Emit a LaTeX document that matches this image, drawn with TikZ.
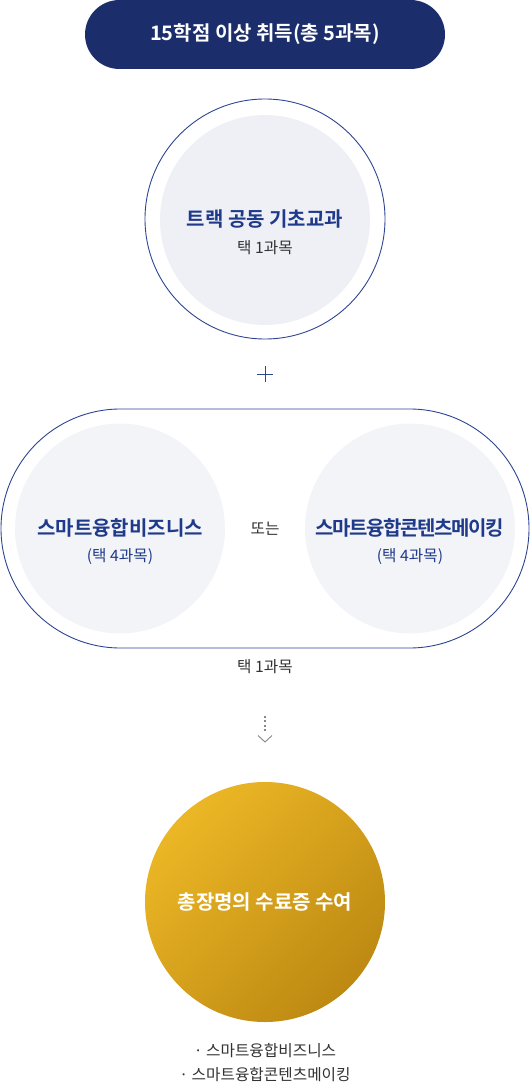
\documentclass[tikz,border=0pt]{standalone}
\usepackage{fontspec}
\setmainfont{Noto Sans CJK KR}[BoldFont={Noto Sans CJK KR Bold}]
\usetikzlibrary{shadings}
\definecolor{navy}{HTML}{1B2E6B}
\definecolor{ring}{HTML}{2C4592}
\definecolor{titleblue}{HTML}{1F3A8A}
\definecolor{fillA}{HTML}{EFF0F6}
\definecolor{fillB}{HTML}{F3F4F8}
\definecolor{txt}{HTML}{333333}
\definecolor{goldA}{HTML}{ECB725}
\definecolor{goldB}{HTML}{BD8912}
\definecolor{arrowgray}{HTML}{888888}
\tikzset{
  ringcircle/.style={circle, draw=ring, line width=0.9pt, inner sep=0pt, outer sep=0pt, minimum size=240pt},
  innercircle/.style={circle, inner sep=0pt, outer sep=0pt, minimum size=210pt},
  titletext/.style={font=\bfseries\fontsize{20}{23}\selectfont, text=titleblue, inner sep=0pt},
  subtext/.style={font=\fontsize{15.7}{18}\selectfont, text=txt, inner sep=0pt},
}
\begin{document}
\begin{tikzpicture}[x=1pt, y=-1pt]
\useasboundingbox (0,0) rectangle (530,1083);
% top banner
\node[fill=navy, rounded corners=34.5pt, minimum width=360pt, minimum height=69pt, inner sep=0pt, outer sep=0pt,
      text=white, font=\bfseries\fontsize{20}{23}\selectfont] (banner) at (265,34.5) {15학점 이상 취득(총 5과목)};
% top circle
\node[ringcircle] (outer1) at (265,219) {};
\node[innercircle, fill=fillA] (inner1) at (265,220) {};
\node[titletext] (t1) at (265,219) {트랙 공동 기초교과};
\node[subtext] (s1) at (265,248) {택 1과목};
% plus
\coordinate (pl) at (257,374);
\coordinate (pr) at (273,374);
\coordinate (pt) at (265,366);
\coordinate (pb) at (265,382);
\draw[ring, line width=1pt] (pl) -- (pr);
\draw[ring, line width=1pt] (pt) -- (pb);
% pill
\node[draw=ring, line width=0.9pt, rounded corners=119.5pt, minimum width=528pt, minimum height=239pt, inner sep=0pt, outer sep=0pt] (pill) at (265,528.5) {};
\node[innercircle, fill=fillB] (left) at (120,528.5) {};
\node[innercircle, fill=fillB] (right) at (410,528.5) {};
\node[titletext] (lt) at (120,528) {스마트융합비즈니스};
\node[subtext, text=titleblue] (ls) at (120,557) {(택 4과목)};
\node[titletext] (rt) at (410,528) {\addfontfeature{LetterSpace=-7}스마트융합콘텐츠메이킹};
\node[subtext, text=titleblue] (rs) at (410,557) {(택 4과목)};
\node[subtext] (or) at (265,529) {또는};
\node[subtext] (pick) at (265,667) {택 1과목};
% dotted arrow
\coordinate (d1) at (265,716);
\coordinate (d2) at (265,732);
\draw[arrowgray, line width=2pt, dash pattern=on 2pt off 2.3pt] (d1) -- (d2);
\coordinate (cl) at (258,735.5);
\coordinate (cm) at (265,742);
\coordinate (cr) at (272,735.5);
\draw[arrowgray, line width=0.9pt] (cl) -- (cm) -- (cr);
% gold circle
\node[circle, inner sep=0pt, outer sep=0pt, minimum size=240pt, top color=goldA, bottom color=goldB, shading angle=45] (gold) at (265,902) {};
\node[font=\bfseries\fontsize{20}{23}\selectfont, text=white, inner sep=0pt] (gt) at (265,902) {총장명의 수료증 수여};
% bottom list
\node[subtext] (b1) at (265,1051) {·\ 스마트융합비즈니스};
\node[subtext] (b2) at (265,1075) {·\ 스마트융합콘텐츠메이킹};
\end{tikzpicture}
\end{document}
